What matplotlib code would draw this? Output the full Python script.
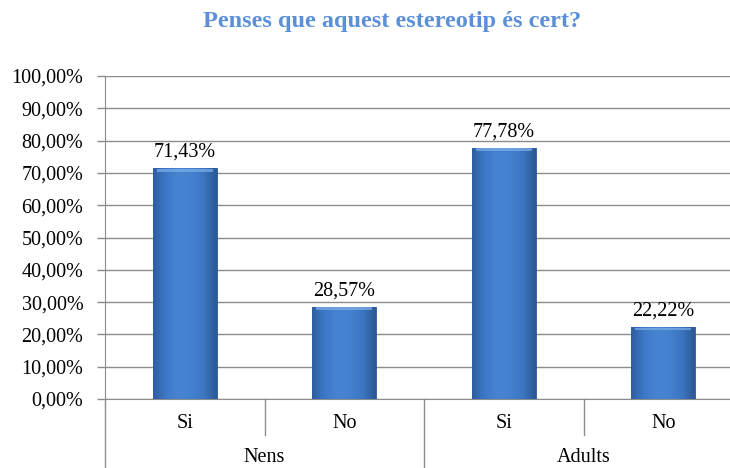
import numpy as np
import matplotlib
matplotlib.use("Agg")
import matplotlib.pyplot as plt
from matplotlib.colors import LinearSegmentedColormap
import matplotlib.transforms as mtransforms

plt.rcParams['font.family'] = ['Liberation Serif', 'DejaVu Serif']

groups = ['Nens', 'Adults']
answers = ['Si', 'No']
values = [71.43, 28.57, 77.78, 22.22]
labels = ['71,43%', '28,57%', '77,78%', '22,22%']
yticks = [0, 10, 20, 30, 40, 50, 60, 70, 80, 90, 100]

fig = plt.figure(figsize=(7.30, 4.68), dpi=100)
ax = fig.add_axes([105 / 730, 1 - 399 / 468, 638 / 730, 323 / 468])

x = np.arange(len(values))
bars = ax.bar(x, values, width=0.4, color='#3F7CCB', edgecolor='#2B5A96',
              linewidth=0.6, zorder=3)

# horizontal gradient clipped to each bar
cmap = LinearSegmentedColormap.from_list(
    'bar', ['#2F5E9E', '#3C78C6', '#4784D2', '#4481CF', '#3B75C1', '#2C5894'])
grad = np.linspace(0, 1, 256).reshape(1, -1)
for b in bars:
    bx, bw, bh = b.get_x(), b.get_width(), b.get_height()
    im = ax.imshow(grad, cmap=cmap, aspect='auto', zorder=3.5,
                   extent=[bx, bx + bw, 0, bh])
    im.set_clip_path(b)
    # lighter bevel at the top
    ax.fill_between([bx + bw * 0.06, bx + bw * 0.94], bh - 1.0, bh - 0.1,
                    color='#7FB0EA', alpha=0.7, zorder=4, linewidth=0)

for xi, v, lab in zip(x, values, labels):
    ax.text(xi, v + 2.0, lab, ha='center', va='bottom', fontsize=14.5, color='black')

ax.set_xlim(-0.5, 3.5)
ax.set_ylim(0, 100)
ax.set_yticks(yticks)
ax.set_yticklabels([f'{t},00%' for t in yticks], fontsize=14.5)
ax.tick_params(axis='y', length=5.5, color='#8C8C8C', width=1, pad=10)
ax.yaxis.grid(True, color='#8C8C8C', linewidth=1, zorder=0)
ax.set_axisbelow(True)

ax.set_xticks(x)
ax.set_xticklabels([])
ax.tick_params(axis='x', length=0)

for s in ['top', 'right']:
    ax.spines[s].set_visible(False)
ax.spines['left'].set_color('#8C8C8C')
ax.spines['bottom'].set_color('#8C8C8C')

# multi-level category axis
trans = mtransforms.blended_transform_factory(ax.transData, ax.transAxes)
h = 323.0
for xi, i in zip(x, range(len(values))):
    ax.text(xi, -24 / h, answers[i % 2], transform=trans, ha='center',
            va='center', fontsize=14.5)
for sep in [0.5, 2.5]:
    ax.plot([sep, sep], [0, -36 / h], transform=trans, color='#8C8C8C',
            linewidth=1, clip_on=False)
for sep in [-0.5, 1.5, 3.5]:
    ax.plot([sep, sep], [0, -80 / h], transform=trans, color='#8C8C8C',
            linewidth=1, clip_on=False)
for gi, g in enumerate(groups):
    ax.text(gi * 2 + 0.5, -58 / h, g, transform=trans, ha='center',
            va='center', fontsize=14.5)

fig.text(392 / 730, 1 - 22 / 468, 'Penses que aquest estereotip és cert?',
         ha='center', va='center', fontsize=17.5, fontweight='bold', color='#5B8FD8')

fig.savefig('out.png', dpi=100)
